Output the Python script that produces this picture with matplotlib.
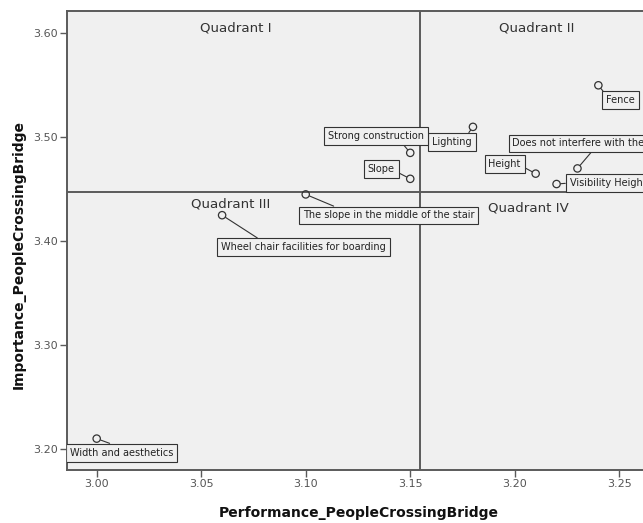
import numpy as np
import matplotlib.pyplot as plt

# Importance-performance points
labels = ['Fence', 'Lighting', 'Strong construction', 'Slope', 'Height',
          'Does not interfere with the traffic', 'Visibility Height',
          'The slope in the middle of the stair',
          'Wheel chair facilities for boarding', 'Width and aesthetics']
performance = [3.24, 3.18, 3.15, 3.15, 3.21, 3.23, 3.22, 3.10, 3.06, 3.00]
importance = [3.55, 3.51, 3.485, 3.46, 3.465, 3.47, 3.455, 3.445, 3.425, 3.21]

perf_mean = 3.1545
imp_mean = 3.4475

xticks = [3.00, 3.05, 3.10, 3.15, 3.20, 3.25]
yticks = [3.20, 3.30, 3.40, 3.50, 3.60]

# label placement: (offset px, ha, relpos of leader line)
placement = [
    ((8, -15), 'left', (0.0, 1.0)),
    ((-21, -15), 'center', (0.85, 1.0)),
    ((-34, 17), 'center', (0.75, 0.0)),
    ((-29, 10), 'center', (1.0, 0.3)),
    ((-31, 10), 'center', (1.0, 0.3)),
    ((-65, 25), 'left', (0.5, 0.0)),
    ((13, 1), 'left', (0.0, 0.5)),
    ((-3, -21), 'left', (0.24, 1.0)),
    ((-1, -32), 'left', (0.26, 1.0)),
    ((-27, -14), 'left', (0.5, 1.0)),
]

bg = '#f0f0f0'
dark = '#5a5a5a'
plt.rcParams['font.family'] = 'DejaVu Sans'

fig = plt.figure(figsize=(6.43, 5.23), dpi=100)
ax = fig.add_axes([67 / 643, 53 / 523, 583 / 643, 459 / 523])
ax.set_facecolor(bg)

ax.axvline(perf_mean, color=dark, lw=1.4, zorder=1)
ax.axhline(imp_mean, color=dark, lw=1.4, zorder=1)

ax.scatter(performance, importance, s=28, facecolors='none',
           edgecolors='#333333', linewidths=0.9, zorder=4)

for lab, x, y, (off, ha, rp) in zip(labels, performance, importance, placement):
    ax.annotate(lab, xy=(x, y), xytext=off, textcoords='offset pixels',
                ha=ha, va='center', fontsize=7,
                color='#222222', annotation_clip=False, clip_on=True,
                bbox=dict(boxstyle='square,pad=0.4', fc=bg, ec='#333333', lw=0.8),
                arrowprops=dict(arrowstyle='-', color='#333333', lw=0.8,
                                relpos=rp, shrinkA=0, shrinkB=3),
                zorder=5)

quad_text = dict(fontsize=9.6, color='#333333',
                 ha='center', va='center', transform=ax.transAxes)
ax.text(0.290, 0.963, 'Quadrant I', **quad_text)
ax.text(0.806, 0.963, 'Quadrant II', **quad_text)
ax.text(0.280, 0.580, 'Quadrant III', **quad_text)
ax.text(0.792, 0.571, 'Quadrant IV', **quad_text)

ax.set_xlim(2.9858, 3.2647)
ax.set_ylim(3.1798, 3.6215)
ax.set_xticks(xticks)
ax.set_yticks(yticks)
ax.set_xticklabels([f'{v:.2f}' for v in xticks], fontsize=8, color='#555555')
ax.set_yticklabels([f'{v:.2f}' for v in yticks], fontsize=8, color='#555555')
ax.tick_params(direction='out', length=5, width=1, color=dark, pad=1.5)

for s in ax.spines.values():
    s.set_color(dark)
    s.set_linewidth(1.4)

ax.set_xlabel('Performance_PeopleCrossingBridge', fontsize=10, fontweight='bold',
              color='#111111')
ax.set_ylabel('Importance_PeopleCrossingBridge', fontsize=10, fontweight='bold',
              color='#111111')
ax.xaxis.set_label_coords(0.5, -0.078)
ax.yaxis.set_label_coords(-0.07, 0.47)

fig.savefig('out.png', dpi=100)
